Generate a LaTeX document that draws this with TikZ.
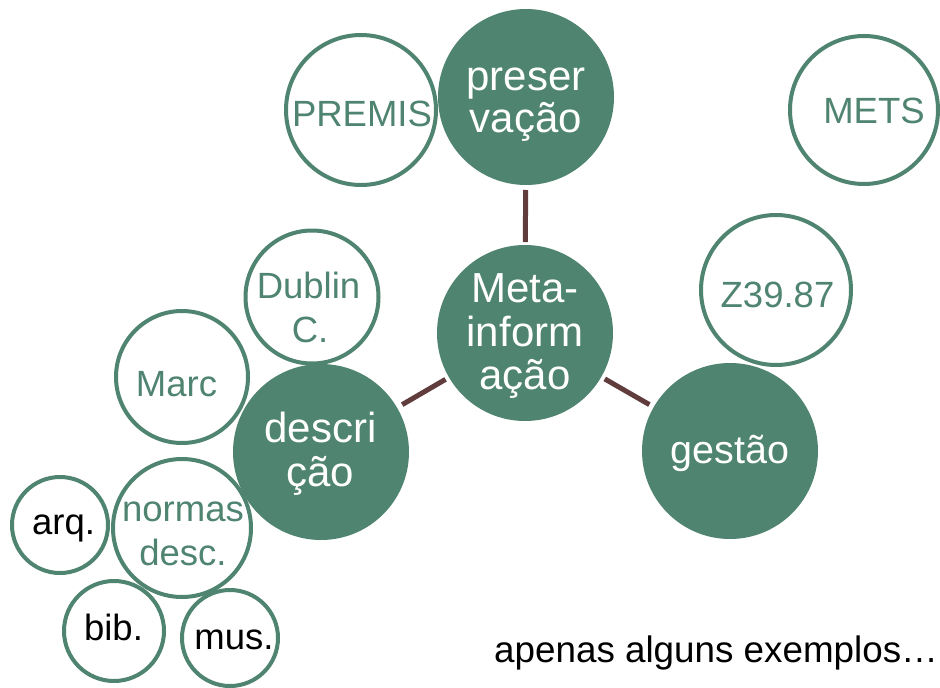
\documentclass[tikz,border=0pt]{standalone}
\usepackage{fontspec}
\setmainfont{Liberation Sans}
\definecolor{mgreen}{RGB}{79,132,112}
\definecolor{mbrown}{RGB}{96,60,60}
\begin{document}
\begin{tikzpicture}[x=1pt,y=-1pt,
  bigdisc/.style={circle,fill=mgreen,draw=none,inner sep=0pt,outer sep=0pt,minimum size=#1},
  ringc/.style={circle,draw=mgreen,line width=4pt,fill=white,inner sep=0pt,outer sep=0pt,minimum size=#1},
  wtext/.style={anchor=base,text=white,inner sep=0pt,font=\fontsize{42}{44}\selectfont},
  gtext/.style={anchor=base,text=mgreen,inner sep=0pt,font=\fontsize{36.5}{38}\selectfont},
  btext/.style={anchor=base,text=black,inner sep=0pt,font=\fontsize{36.5}{38}\selectfont},
  conn/.style={draw=mbrown,line width=5pt}
]
\useasboundingbox (0,0) rectangle (940,688);

% white rings
\node[ringc=150] (premis) at (361,110) {};
\node[ringc=148] (mets) at (864,110) {};
\node[ringc=150] (z39) at (776,290) {};
\node[ringc=133] (dublin) at (312,297) {};
\node[ringc=132] (marc) at (182,377) {};
\node[ringc=138] (normas) at (182,528) {};
\node[ringc=96] (arq) at (60,525) {};
\node[ringc=100] (bib) at (114,631) {};
\node[ringc=96] (mus) at (230,638) {};

% filled discs
\node[bigdisc=176] (pres) at (526,97) {};
\node[bigdisc=176] (meta) at (525,333) {};
\node[bigdisc=176] (desc) at (321,452) {};
\node[bigdisc=176] (gest) at (730,451) {};

% connectors
\draw[conn, shorten <=3pt, shorten >=5pt] (meta) -- (pres);
\draw[conn, shorten <=4pt, shorten >=6pt] (meta) -- (desc);
\draw[conn, shorten <=4pt, shorten >=5pt] (meta) -- (gest);

% labels
\node[wtext] (tpres1) at (526,90) {preser};
\node[wtext] (tpres2) at (526,132) {vação};
\node[wtext] (tmeta1) at (525,302) {Meta-};
\node[wtext] (tmeta2) at (525,346) {inform};
\node[wtext] (tmeta3) at (525,389) {ação};
\node[wtext] (tdesc1) at (320.5,442) {descri};
\node[wtext] (tdesc2) at (320.5,486) {ção};
\node[wtext,font=\fontsize{39.5}{42}\selectfont] (tgest) at (730,463) {gestão};

\node[gtext] (tpremis) at (362,126) {PREMIS};
\node[gtext] (tmets) at (874,123) {METS};
\node[gtext] (tz39) at (777.5,307) {Z39.87};
\node[gtext] (tdub1) at (308.5,298) {Dublin};
\node[gtext] (tdub2) at (310,342) {C.};
\node[gtext] (tmarc) at (176.5,396) {Marc};
\node[gtext] (tnorm1) at (183,521) {normas};
\node[gtext] (tnorm2) at (183,565) {desc.};

\node[btext] (tarq) at (63.5,534) {arq.};
\node[btext] (tbib) at (113.5,640) {bib.};
\node[btext] (tmus) at (234,649) {mus.};
\node[btext,anchor=base west,font=\fontsize{36.8}{39}\selectfont] (tnote) at (494,662) {apenas alguns exemplos…};
\end{tikzpicture}
\end{document}
